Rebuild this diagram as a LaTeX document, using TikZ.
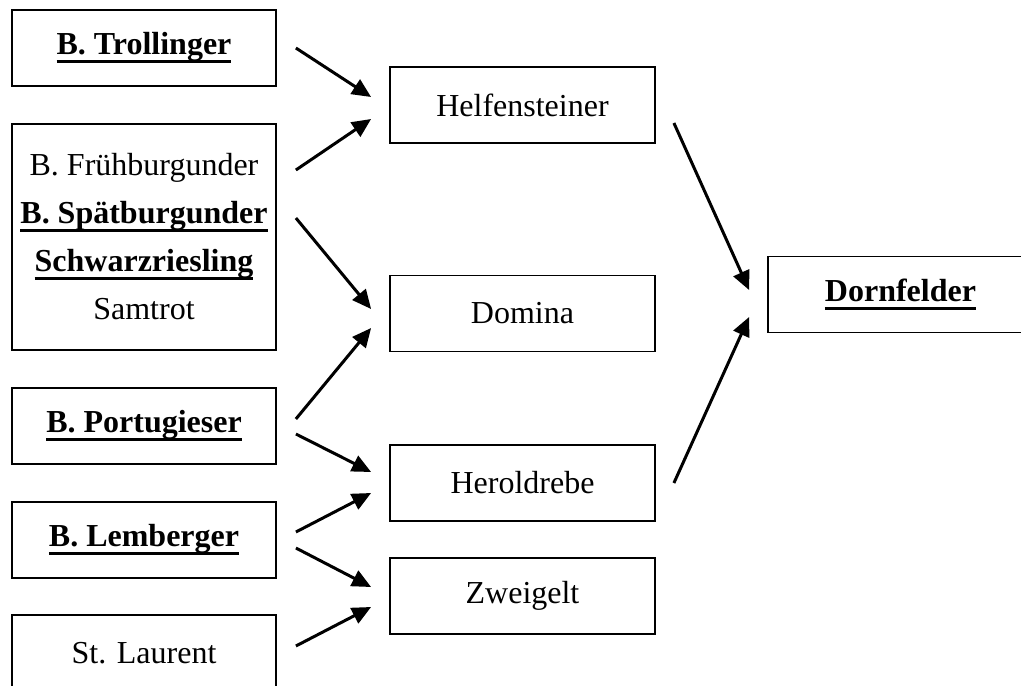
\documentclass[tikz,border=0pt]{standalone}
\usepackage{fontspec}
\setmainfont{Liberation Serif}
\usetikzlibrary{arrows.meta}

% bold and underlined variety name
\newcommand{\ulbf}[1]{\sbox0{\bfseries #1}\rlap{\rule[-8.5pt]{\wd0}{3.5pt}}\usebox0}

\begin{document}
\begin{tikzpicture}[
    x=1pt, y=-1pt,
    every node/.style={font=\fontsize{32}{48}\selectfont},
    base/.style={draw, line width=1.8pt, align=center, inner sep=0pt, minimum height=76pt},
    parent/.style={base, minimum width=264pt},
    cross/.style={base, minimum width=265pt},
    arrow/.style={-{Triangle[length=19pt, width=17pt]}, line width=3pt}
]
\useasboundingbox (0, 0) rectangle (1021, 686);

% parent varieties
\node[parent] (trol) at (144, 48) {\ulbf{B. Trollinger}};
\node[parent, minimum height=226pt] (burg) at (144, 237)
    {B. Frühburgunder\\ \ulbf{B. Spätburgunder}\\ \ulbf{Schwarzriesling}\\ Samtrot};
\node[parent] (port) at (144, 426) {\ulbf{B. Portugieser}};
\node[parent] (lemb) at (144, 540) {\ulbf{B. Lemberger}};
\node[parent] (laur) at (144, 653) {St. Laurent};

% crossings
\node[cross] (helf) at (522.5, 105) {Helfensteiner};
\node[cross] (domi) at (522.5, 313.5) {Domina};
\node[cross] (hero) at (522.5, 483) {Heroldrebe};
\node[cross] (zwei) at (522.5, 596) {Zweigelt};

\node[cross] (dorn) at (900.5, 294.5) {\ulbf{Dornfelder}};

% parents -> crossings
\draw[arrow] ([xshift=19pt]trol.east) -- ([xshift=-18pt, yshift=8pt]helf.west);
\draw[arrow] ([xshift=19pt, yshift=67pt]burg.east) -- ([xshift=-18pt, yshift=-14pt]helf.west);
\draw[arrow] ([xshift=19pt, yshift=19pt]burg.east) -- ([xshift=-18pt, yshift=4.5pt]domi.west);
\draw[arrow] ([xshift=19pt, yshift=7pt]port.east) -- ([xshift=-18pt, yshift=-14.5pt]domi.west);
\draw[arrow] ([xshift=19pt, yshift=-8pt]port.east) -- ([xshift=-18pt, yshift=11pt]hero.west);
\draw[arrow] ([xshift=19pt, yshift=8pt]lemb.east) -- ([xshift=-18pt, yshift=-10pt]hero.west);
\draw[arrow] ([xshift=19pt, yshift=-8pt]lemb.east) -- ([xshift=-18pt, yshift=9pt]zwei.west);
\draw[arrow] ([xshift=19pt, yshift=7pt]laur.east) -- ([xshift=-18pt, yshift=-11pt]zwei.west);

% crossings -> Dornfelder
\draw[arrow] ([xshift=18pt, yshift=-18pt]helf.east) -- ([xshift=-18pt, yshift=4.5pt]dorn.west);
\draw[arrow] ([xshift=18pt]hero.east) -- ([xshift=-18pt, yshift=-22.5pt]dorn.west);

\end{tikzpicture}
\end{document}
